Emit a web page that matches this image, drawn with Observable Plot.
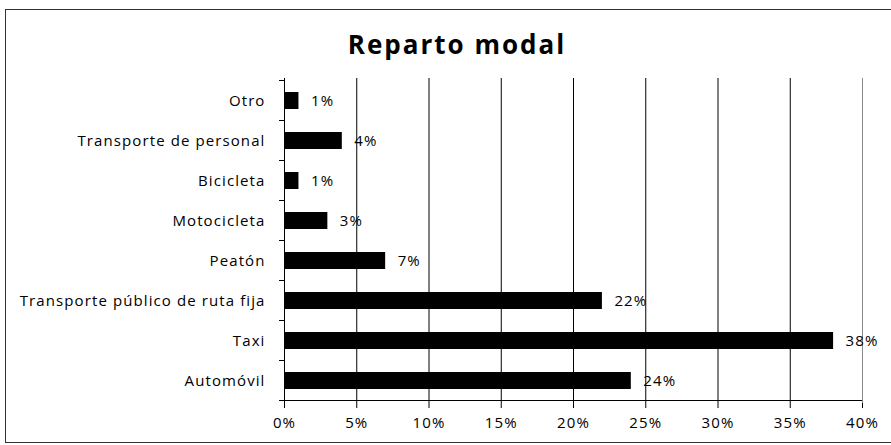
<!DOCTYPE html>
<html><head><meta charset="utf-8">
<script src="https://cdn.jsdelivr.net/npm/d3@7"></script>
<script src="https://cdn.jsdelivr.net/npm/@observablehq/plot@0.6"></script>
<style>
body{margin:0;background:#fff;font-family:"Open Sans",sans-serif;}
#wrap{position:relative;width:891px;height:445px;overflow:hidden;}
#frame{position:absolute;left:5px;top:9px;width:950px;height:434px;border:1px solid #333;box-sizing:border-box;}
#title{position:absolute;left:0;top:27px;width:914px;text-align:center;font:bold 26px "Open Sans",sans-serif;color:#000;line-height:34px;letter-spacing:2px;}
#chart{position:absolute;left:0;top:0;}
</style></head>
<body><div id="wrap"><div id="frame"></div><div id="title">Reparto modal</div><div id="chart"></div></div>
<script>
const categories = ["Otro","Transporte de personal","Bicicleta","Motocicleta","Peatón","Transporte público de ruta fija","Taxi","Automóvil"];
const values = [1,4,1,3,7,22,38,24];
const xTicks = [0,5,10,15,20,25,30,35,40];
const gridTicks = [5,10,15,20,25,30,35];

const data = categories.map((c,i)=>({cat:c, value:values[i]}));

function yBoundaries(index, scales, vals, dims) {
  const y = scales.y, x = scales.x;
  const step = y.step(), bw = y.bandwidth();
  const g = d3.create("svg:g").attr("stroke","#000").attr("stroke-width",1);
  const x0 = x(0);
  const edges = categories.map(c => y(c) + bw/2 - step/2);
  edges.push(y(categories[categories.length-1]) + bw/2 + step/2);
  for (const e of edges) {
    g.append("line").attr("x1",x0-5).attr("x2",x0).attr("y1",e).attr("y2",e);
  }
  const yb = edges[edges.length-1];
  g.append("line").attr("x1",x0).attr("x2",x(40)).attr("y1",yb).attr("y2",yb);
  return g.node();
}

const chart = Plot.plot({
  width: 891,
  height: 445,
  marginLeft: 284,
  marginRight: 29,
  marginTop: 78,
  marginBottom: 42,
  style: {fontFamily: "'Open Sans', sans-serif", fontSize: "15px", color: "#000", background: "transparent", letterSpacing: "1.1px"},
  x: {domain: [0,40]},
  y: {domain: categories, paddingInner: 0.58, paddingOuter: 0.29},
  marks: [
    Plot.gridX(gridTicks, {stroke: "#000", strokeOpacity: 1}),
    Plot.ruleX([40], {stroke: "#888"}),
    Plot.ruleX([0], {stroke: "#000"}),
    Plot.barX(data, {x: "value", y: "cat", fill: "#000"}),
    Plot.text(data, {x: "value", y: "cat", text: d => d.value + "%", dx: 12, textAnchor: "start", fill: "#000", fontSize: 15}),
    Plot.axisX({ticks: xTicks, tickFormat: d => d + "%", tickSize: 5, tickPadding: 9, label: null, fontSize: 15}),
    Plot.axisY({tickSize: 0, tickPadding: 19, label: null, fontSize: 15}),
    yBoundaries
  ]
});
document.getElementById("chart").appendChild(chart);
</script></body></html>
